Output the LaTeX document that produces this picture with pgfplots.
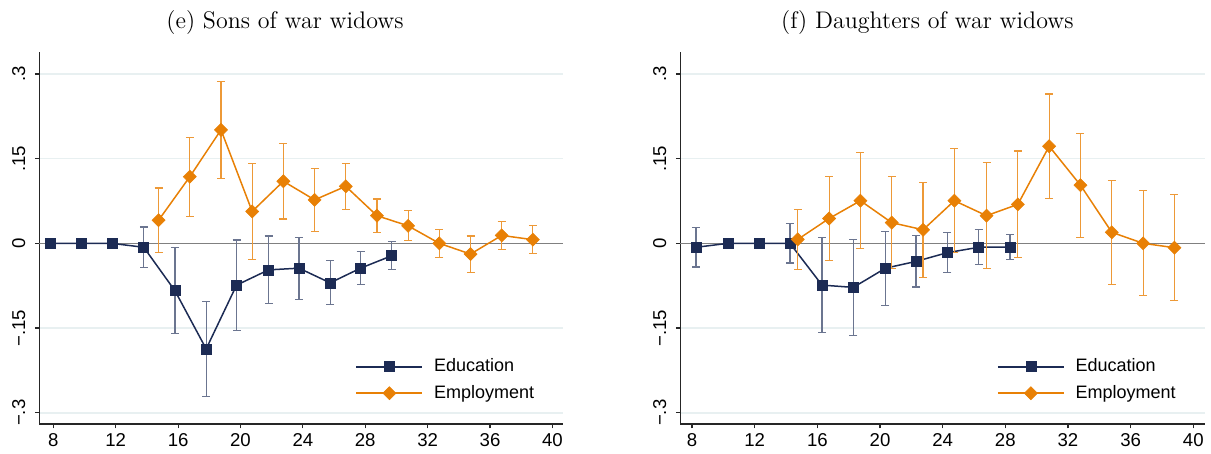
\documentclass[border=0pt]{standalone}
\usepackage{fontspec}
\usepackage{pgfplots}
\usepackage{pgfplotstable}
\pgfplotsset{compat=1.18}
\newfontfamily\arial{Liberation Sans}
\definecolor{snavy}{RGB}{28,43,84}
\definecolor{sorange}{RGB}{232,128,5}
\definecolor{sgrid}{RGB}{232,240,241}

\pgfplotstableread{
x y e
7.8 0 0
9.8 0 0
11.75 0 0
13.8 -0.007 0.036
15.8 -0.084 0.076
17.8 -0.187 0.084
19.75 -0.074 0.080
21.8 -0.047 0.060
23.75 -0.044 0.055
25.75 -0.070 0.039
27.7 -0.044 0.029
29.7 -0.022 0.025
}\leftedu
\pgfplotstableread{
x y e
14.75 0.041 0.057
16.75 0.118 0.070
18.75 0.201 0.086
20.75 0.0565 0.0855
22.75 0.110 0.067
24.75 0.077 0.056
26.75 0.101 0.041
28.75 0.049 0.0295
30.75 0.031 0.0265
32.75 0.000 0.025
34.75 -0.019 0.032
36.75 0.014 0.0245
38.75 0.0065 0.0245
}\leftemp
\pgfplotstableread{
x y e
8.25 -0.007 0.035
10.3 0 0
12.3 0 0
14.25 0 0.035
16.3 -0.074 0.084
18.3 -0.078 0.085
20.35 -0.044 0.0655
22.3 -0.032 0.0455
24.3 -0.0165 0.035
26.3 -0.007 0.031
28.3 -0.0065 0.022
}\rightedu
\pgfplotstableread{
x y e
14.75 0.007 0.0535
16.75 0.044 0.075
18.75 0.0755 0.085
20.75 0.0366 0.0815
22.75 0.024 0.084
24.75 0.0755 0.092
26.8 0.049 0.0935
28.8 0.069 0.0945
30.8 0.172 0.0925
32.8 0.103 0.092
34.8 0.0195 0.092
36.8 0 0.093
38.8 -0.0077 0.094
}\rightemp

\pgfplotsset{
  panel/.style={
    scale only axis,
    anchor=south west,
    height=186.15pt,
    ymin=-0.32, ymax=0.3395,
    axis x line*=bottom,
    axis y line*=left,
    axis line style={line width=0.8pt, black!85},
    tick align=outside,
    major tick length=2.2pt,
    tick style={line width=0.6pt, black!85},
    xtick={8,12,16,20,24,28,32,36,40},
    xticklabels={8,12,16,20,24,28,32,36,40},
    ytick={-0.3,-0.15,0.15,0.3},
    yticklabels={−.3,−.15,.15,.3},
    extra y ticks={0},
    extra y tick labels={0},
    extra y tick style={grid=major, major grid style={line width=0.6pt, black!50}},
    ymajorgrids,
    major grid style={line width=0.8pt, sgrid},
    tick label style={font=\arial\fontsize{9.3}{10}\selectfont},
    yticklabel style={xshift=-4.6pt, rotate=90, anchor=south, inner sep=0pt},
    xticklabel style={anchor=north, inner sep=0pt, yshift=-2.3pt},
    title style={font=\fontsize{12}{14}\selectfont, anchor=base, yshift=5.7pt},
    legend style={draw=none, fill=none, font=\arial\fontsize{9}{10}\selectfont,
      anchor=north west, at={(0.603,0.187)}, row sep=1.2pt, inner sep=0pt,
      legend cell align=left},
    legend image code/.code={%
      \draw[mark repeat=2,mark phase=2,##1] plot coordinates {(0pt,0pt) (16.5pt,0pt) (33pt,0pt)};
      \path (36.5pt,0pt);},
    clip=false,
  },
  edu/.style={color=snavy, line width=0.75pt, mark=square*, mark size=2.5pt,
    mark options={solid, fill=snavy, draw=snavy, line width=0.3pt},
    error bars/.cd, y dir=both, y explicit,
    error bar style={line width=0.6pt, color=snavy!65!white},
    error mark options={line width=0.6pt, mark size=2pt, color=snavy!65!white, rotate=90}},
  emp/.style={color=sorange, line width=0.75pt, mark=square*, mark size=2.3pt,
    mark options={solid, rotate=45, fill=sorange, draw=sorange, line width=0.3pt},
    error bars/.cd, y dir=both, y explicit,
    error bar style={line width=0.6pt, color=sorange!80!white},
    error mark options={line width=0.6pt, mark size=2pt, color=sorange!80!white, rotate=90}},
}

\begin{document}
\begin{tikzpicture}
\useasboundingbox (0,0) rectangle (605.5pt,227pt);
\begin{axis}[panel, at={(19.65pt,15pt)}, width=262pt,
  xmin=7.1, xmax=40.7,
  title={(e) Sons of war widows},
  title style={at={(0.469,1)}}]
\addplot+[edu] table[x=x, y=y, y error=e] {\leftedu};
\addlegendentry{Education}
\addplot+[emp] table[x=x, y=y, y error=e] {\leftemp};
\addlegendentry{Employment}
\end{axis}
\begin{axis}[panel, at={(340.15pt,15pt)}, width=262.35pt,
  xmin=7.25, xmax=40.75,
  title={(f) Daughters of war widows},
  title style={at={(0.471,1)}}]
\addplot+[edu] table[x=x, y=y, y error=e] {\rightedu};
\addlegendentry{Education}
\addplot+[emp] table[x=x, y=y, y error=e] {\rightemp};
\addlegendentry{Employment}
\end{axis}
\end{tikzpicture}
\end{document}
